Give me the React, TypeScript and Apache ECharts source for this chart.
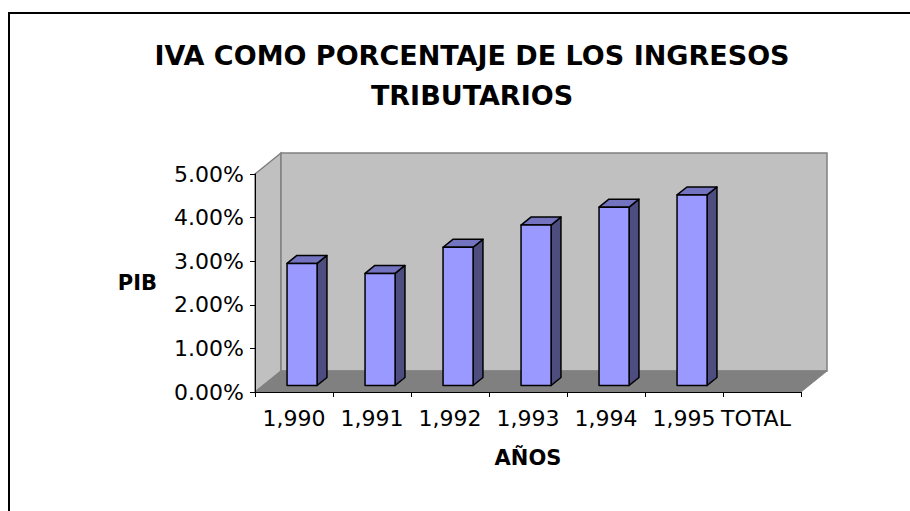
import React, { useEffect, useRef } from "react";
import * as echarts from "echarts";

const categories = ["1,990", "1,991", "1,992", "1,993", "1,994", "1,995", "TOTAL"];
const ivaValues: (number | null)[] = [2.8, 2.57, 3.17, 3.68, 4.09, 4.37, null];
const yTicks = { min: 0, max: 5, interval: 1 };
const titleText = "IVA COMO PORCENTAJE DE LOS INGRESOS\nTRIBUTARIOS";
const yName = "PIB";
const xName = "AÑOS";

const FONT = "DejaVu Sans";
const DEPTH = [26, -21];
const BAR_FRONT = 0.31;
const BAR_DEPTH = 0.38;
const BAR_WIDTH = 0.385;

export default function App() {
  const ref = useRef<HTMLDivElement>(null);
  useEffect(() => {
    if (!ref.current) return;
    const chart = echarts.init(ref.current, null, { renderer: "svg" });
    const barData = ivaValues
      .map((v, i) => (v == null ? null : [i, v]))
      .filter((d) => d !== null);

    const option: any = {
      animation: false,
      backgroundColor: "#ffffff",
      title: {
        text: titleText,
        left: 467,
        top: 30,
        textAlign: "center",
        textStyle: {
          fontFamily: FONT,
          fontSize: 27,
          fontWeight: "bold",
          lineHeight: 40,
          color: "#000",
        },
      },
      grid: { left: 255, right: 109, top: 174, bottom: 119, containLabel: false },
      xAxis: {
        type: "category",
        data: categories,
        z: 10,
        name: xName,
        nameLocation: "middle",
        nameGap: 55,
        nameTextStyle: { fontFamily: FONT, fontSize: 21, fontWeight: "bold", color: "#000" },
        axisLine: { show: true, lineStyle: { color: "#000", width: 1 } },
        axisTick: { show: true, length: 5, lineStyle: { color: "#000" } },
        axisLabel: {
          interval: 0,
          margin: 15,
          fontFamily: FONT,
          fontSize: 22,
          color: "#000",
          formatter: (v: string) => (v === "TOTAL" ? "{t|" + v + "}" : v),
          rich: { t: { fontFamily: FONT, fontSize: 22, color: "#000", padding: [0, 12, 0, 0] } },
        },
        splitLine: { show: false },
      },
      yAxis: {
        type: "value",
        min: yTicks.min,
        max: yTicks.max,
        interval: yTicks.interval,
        z: 10,
        name: yName,
        nameLocation: "middle",
        nameRotate: 0,
        nameGap: 98,
        nameTextStyle: { fontFamily: FONT, fontSize: 21, fontWeight: "bold", color: "#000" },
        axisLine: { show: true, lineStyle: { color: "#000", width: 1 } },
        axisTick: { show: true, length: 5, lineStyle: { color: "#000" } },
        axisLabel: {
          margin: 11,
          fontFamily: FONT,
          fontSize: 22,
          color: "#000",
          formatter: (v: number) => v.toFixed(2) + "%",
        },
        splitLine: { show: false },
      },
      graphic: [
        {
          type: "rect",
          shape: { x: 9, y: 13, width: 1000, height: 600 },
          style: { fill: "none", stroke: "#000", lineWidth: 2 },
          silent: true,
        },
      ],
      series: [
        {
          type: "custom",
          name: "walls",
          z: 1,
          silent: true,
          data: [[0, 0]],
          renderItem: (params: any) => {
            const cs = params.coordSys;
            const x0 = cs.x, y0 = cs.y, w = cs.width, h = cs.height;
            const dx = DEPTH[0], dy = DEPTH[1];
            return {
              type: "group",
              children: [
                {
                  type: "polygon",
                  shape: { points: [[x0, y0], [x0 + dx, y0 + dy], [x0 + dx, y0 + h + dy], [x0, y0 + h]] },
                  style: { fill: "#c0c0c0", stroke: "#808080", lineWidth: 1.5 },
                },
                {
                  type: "polygon",
                  shape: { points: [[x0 + dx, y0 + dy], [x0 + w + dx, y0 + dy], [x0 + w + dx, y0 + h + dy], [x0 + dx, y0 + h + dy]] },
                  style: { fill: "#c0c0c0", stroke: "#808080", lineWidth: 1.5 },
                },
                {
                  type: "polygon",
                  shape: { points: [[x0, y0 + h], [x0 + dx, y0 + h + dy], [x0 + w + dx, y0 + h + dy], [x0 + w, y0 + h]] },
                  style: { fill: "#808080", stroke: "#808080", lineWidth: 1 },
                },
              ],
            };
          },
        },
        {
          type: "custom",
          name: "IVA",
          z: 3,
          data: barData,
          encode: { x: 0, y: 1 },
          renderItem: (params: any, api: any) => {
            const idx = api.value(0);
            const v = api.value(1);
            const base = api.coord([idx, 0]);
            const top = api.coord([idx, v]);
            const band = api.size([1, 0])[0];
            const w = band * BAR_WIDTH;
            const fx = DEPTH[0] * BAR_FRONT, fy = DEPTH[1] * BAR_FRONT;
            const sx = DEPTH[0] * BAR_DEPTH, sy = DEPTH[1] * BAR_DEPTH;
            const xa = base[0] - w / 2 + fx;
            const xb = xa + w;
            const yb = base[1] + fy;
            const yt = top[1] + fy;
            const stroke = { stroke: "#000", lineWidth: 1.5, lineJoin: "round" };
            return {
              type: "group",
              children: [
                {
                  type: "polygon",
                  shape: { points: [[xb, yt], [xb + sx, yt + sy], [xb + sx, yb + sy], [xb, yb]] },
                  style: { fill: "#4d4d80", ...stroke },
                },
                {
                  type: "polygon",
                  shape: { points: [[xa, yt], [xa + sx, yt + sy], [xb + sx, yt + sy], [xb, yt]] },
                  style: { fill: "#7373bf", ...stroke },
                },
                {
                  type: "polygon",
                  shape: { points: [[xa, yt], [xb, yt], [xb, yb], [xa, yb]] },
                  style: { fill: "#9999ff", ...stroke },
                },
              ],
            };
          },
        },
      ],
    };
    chart.setOption(option);
    return () => chart.dispose();
  }, []);
  return (
    <div
      ref={ref}
      style={{ position: "fixed", left: 0, top: 0, width: 910, height: 511, background: "#fff" }}
    />
  );
}
